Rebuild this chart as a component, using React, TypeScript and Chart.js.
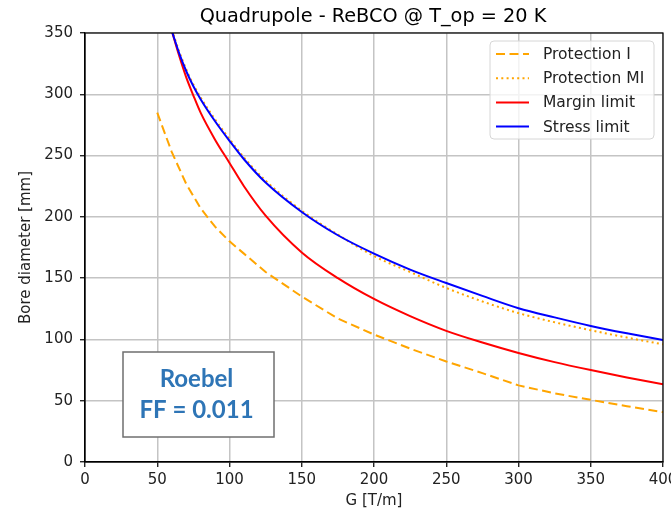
import React, { useEffect, useRef } from "react";
import { Chart, registerables } from "chart.js";

Chart.register(...registerables);

const TITLE = "Quadrupole - ReBCO @ T_op = 20 K";
const X_LABEL = "G [T/m]";
const Y_LABEL = "Bore diameter [mm]";
const SERIES_NAMES = ["Protection I", "Protection MI", "Margin limit", "Stress limit"];
const NOTE_LINES = ["Roebel", "FF = 0.011"];

const X_MIN = 0;
const X_MAX = 400;
const X_STEP = 50;
const Y_MIN = 0;
const Y_MAX = 350;
const Y_STEP = 50;

// Protection I (dashed orange)
const G_PROT_I = [50, 60, 70, 80, 90, 100, 110, 125, 150, 175, 200, 225, 250, 275, 300, 325, 350, 375, 400];
const D_PROT_I = [285, 253, 227, 207, 192, 180, 170, 155, 135, 117, 104, 92.5, 82, 72.5, 62.5, 56, 50.7, 45.5, 40.7];

// Shared G sampling for the smooth curves
const G_CURVES = [60, 65, 70, 75, 80, 90, 100, 110, 125, 150, 175, 200, 225, 250, 275, 300, 325, 350, 375, 400];
const D_PROT_MI = [353, 335.5, 320.5, 308, 297.5, 279.5, 263.5, 248.5, 229.5, 205, 185.5, 168, 155, 142, 131, 121.5, 114, 107.5, 101.5, 96];
const D_MARGIN = [352, 332, 314, 299, 285, 263, 244, 225, 201, 171, 150, 133, 119, 107, 97.5, 89, 81.5, 75, 69, 63.5];
const D_STRESS = [352, 334, 319, 306.5, 296, 278, 262, 247, 228, 204, 185, 170, 157, 146, 135.5, 125.5, 118, 111, 105, 99.5];

const COLORS = ["#FFA500", "#FFA500", "#FF0000", "#0000FF"];
const DASHES: number[][] = [[9, 4.5], [2, 3.3], [], []];

const toPts = (xs: number[], ys: number[]) => xs.map((x, i) => ({ x, y: ys[i] }));

const overlayPlugin = {
  id: "overlay",
  afterDraw(chart: any) {
    const { ctx, chartArea: a } = chart;
    ctx.save();
    // frame
    ctx.setLineDash([]);
    ctx.strokeStyle = "#000";
    ctx.lineWidth = 1.2;
    ctx.strokeRect(a.left, a.top, a.right - a.left, a.bottom - a.top);

    // title
    ctx.fillStyle = "#000";
    ctx.font = '19.3px "DejaVu Sans"';
    ctx.textAlign = "center";
    ctx.textBaseline = "middle";
    ctx.fillText(TITLE, (a.left + a.right) / 2 - 1, a.top - 16);

    // legend
    const lx = a.right - 173;
    const ly = a.top + 8;
    const lw = 164;
    const lh = 98;
    ctx.beginPath();
    ctx.roundRect(lx, ly, lw, lh, 4);
    ctx.fillStyle = "rgba(255,255,255,0.8)";
    ctx.fill();
    ctx.strokeStyle = "#d6d6d6";
    ctx.lineWidth = 1;
    ctx.stroke();
    ctx.font = '15.5px "DejaVu Sans"';
    ctx.textAlign = "left";
    ctx.textBaseline = "middle";
    for (let i = 0; i < SERIES_NAMES.length; i++) {
      const y = ly + 13 + i * 24.2;
      ctx.beginPath();
      ctx.setLineDash(DASHES[i]);
      ctx.strokeStyle = COLORS[i];
      ctx.lineWidth = 2;
      ctx.moveTo(lx + 6, y);
      ctx.lineTo(lx + 39, y);
      ctx.stroke();
      ctx.setLineDash([]);
      ctx.fillStyle = "#222";
      ctx.fillText(SERIES_NAMES[i], lx + 53, y + 1);
    }

    // annotation box
    const bx = a.left + 38;
    const by = a.bottom - 110;
    const bw = 151;
    const bh = 85;
    ctx.fillStyle = "#fff";
    ctx.fillRect(bx, by, bw, bh);
    ctx.strokeStyle = "#6f6f6f";
    ctx.lineWidth = 1.5;
    ctx.strokeRect(bx, by, bw, bh);
    ctx.fillStyle = "#2E75B6";
    ctx.font = 'bold 24px Lato';
    ctx.textAlign = "center";
    ctx.fillText(NOTE_LINES[0], bx + bw / 2 - 2, by + 27);
    ctx.fillText(NOTE_LINES[1], bx + bw / 2 - 2, by + 58);
    ctx.restore();
  },
};

export default function App() {
  const ref = useRef<HTMLCanvasElement | null>(null);

  useEffect(() => {
    if (!ref.current) return;
    const tickFont = { family: "DejaVu Sans", size: 15 };
    const titleFont = { family: "DejaVu Sans", size: 15 };
    const chart = new Chart(ref.current, {
      type: "line",
      data: {
        datasets: [
          {
            label: SERIES_NAMES[0],
            data: toPts(G_PROT_I, D_PROT_I),
            borderColor: COLORS[0],
            borderWidth: 2,
            borderDash: DASHES[0],
            pointRadius: 0,
            tension: 0,
            order: 3,
            clip: 0,
          },
          {
            label: SERIES_NAMES[1],
            data: toPts(G_CURVES, D_PROT_MI),
            borderColor: COLORS[1],
            borderWidth: 2,
            borderDash: DASHES[1],
            pointRadius: 0,
            cubicInterpolationMode: "monotone",
            order: 2,
            clip: 0,
          },
          {
            label: SERIES_NAMES[2],
            data: toPts(G_CURVES, D_MARGIN),
            borderColor: COLORS[2],
            borderWidth: 2,
            pointRadius: 0,
            cubicInterpolationMode: "monotone",
            order: 1,
            clip: 0,
          },
          {
            label: SERIES_NAMES[3],
            data: toPts(G_CURVES, D_STRESS),
            borderColor: COLORS[3],
            borderWidth: 2,
            pointRadius: 0,
            cubicInterpolationMode: "monotone",
            order: 0,
            clip: 0,
          },
        ],
      },
      options: {
        animation: false,
        responsive: false,
        maintainAspectRatio: false,
        layout: { padding: { top: 33, right: 27, left: 0, bottom: 0 } },
        plugins: {
          legend: { display: false },
          title: { display: false },
          tooltip: { enabled: false },
        },
        scales: {
          x: {
            type: "linear",
            min: X_MIN,
            max: X_MAX,
            ticks: { stepSize: X_STEP, color: "#222", font: tickFont, padding: 4, maxRotation: 0 },
            grid: { color: "#c4c4c4", lineWidth: 1.5, tickColor: "#000", tickLength: 5, tickWidth: 1.2 },
            border: { color: "#000", width: 1.2 },
            title: { display: true, text: X_LABEL, color: "#222", font: titleFont, padding: { top: 0, bottom: 3 } },
            afterFit(s: any) {
              s.height = 51;
            },
          },
          y: {
            type: "linear",
            min: Y_MIN,
            max: Y_MAX,
            ticks: { stepSize: Y_STEP, color: "#222", font: tickFont, padding: 7 },
            grid: { color: "#c4c4c4", lineWidth: 1.5, tickColor: "#000", tickLength: 5, tickWidth: 1.2 },
            border: { color: "#000", width: 1.2 },
            title: { display: true, text: Y_LABEL, color: "#222", font: titleFont, padding: { top: 17, bottom: 0 } },
            afterFit(s: any) {
              s.width = 85;
            },
          },
        },
      },
      plugins: [overlayPlugin],
    } as any);
    return () => chart.destroy();
  }, []);

  return (
    <div style={{ position: "absolute", left: 0, top: 0, width: 671, height: 513, overflow: "hidden", background: "#fff" }}>
      <canvas ref={ref} width={690} height={513} style={{ display: "block", width: 690, height: 513 }} />
    </div>
  );
}
